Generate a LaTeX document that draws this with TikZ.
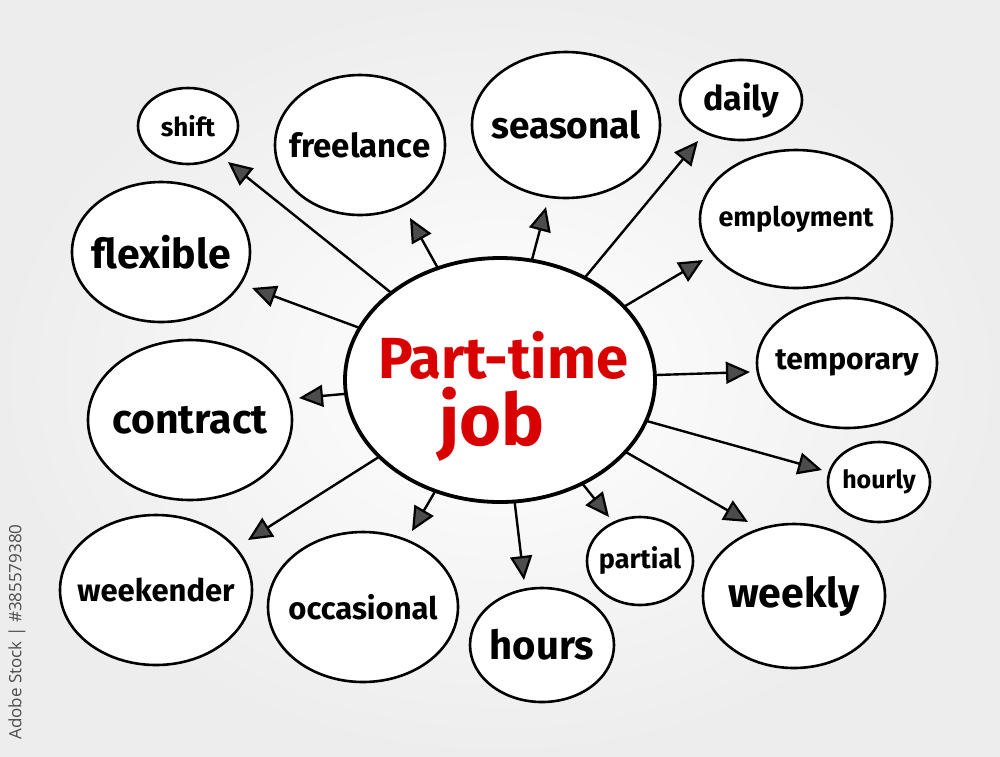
\documentclass[tikz,border=0pt]{standalone}
\usepackage{fontspec}
\setmainfont{Fira Sans}
\newfontfamily\wmfont{Open Sans}
\usetikzlibrary{shapes.geometric,arrows.meta}
\tikzset{
  bub/.style={ellipse, draw=black, line width=2.6pt, fill=white, inner sep=0pt, outer sep=0pt},
  hub/.style={ellipse, draw=black, line width=3.8pt, fill=white, inner sep=0pt, outer sep=0pt},
  lbl/.style={text=black, font=\bfseries},
  hubtext/.style={text=red!85!black, inner sep=0pt},
  link/.style={draw=black, line width=2.4pt, -{Triangle[open,length=24pt,width=22pt,line width=2.2pt,fill=black!70]}},
}
\newcommand{\bubble}[7]{% name, x, y, rx, ry, size, text
  \node[bub, minimum width=#4pt*2, minimum height=#5pt*2,
        label={[lbl, font=\bfseries\fontsize{#6}{#6}\selectfont]center:#7}] (#1) at (#2,#3) {};}
\begin{document}
\begin{tikzpicture}[x=1pt,y=-1pt]
\useasboundingbox (0,0) rectangle (1000,756);
\shade[inner color=white, outer color=black!7] (0,0) rectangle (1000,756);
\node[rotate=90, text=black!70, font=\wmfont\fontsize{17}{20}\selectfont, anchor=center] (wm) at (17,632) {Adobe Stock | \#385579380};

% central
\node[hub, minimum width=310pt, minimum height=244pt] (c) at (500,380) {};
\node[hubtext, font=\bfseries\fontsize{58}{60}\selectfont] (ct1) at (503,355) {Part-time};
\node[hubtext, font=\bfseries\fontsize{72}{74}\selectfont] (ct2) at (492,424) {job};

% satellites
\bubble{shift}{188}{126}{50}{38}{26}{shift}
\bubble{freelance}{360}{145}{85}{70}{33}{freelance}
\bubble{seasonal}{566}{125}{94}{73}{37}{seasonal}
\bubble{daily}{741}{100}{61}{40}{34}{daily}
\bubble{employment}{796}{219}{96}{69}{27}{employment}
\bubble{flexible}{161}{252}{89}{70}{41}{flexible}
\bubble{temporary}{847}{363}{90}{65}{30}{temporary}
\bubble{contract}{190}{420}{102}{80}{41}{contract}
\bubble{hourly}{879}{482}{51}{40}{25}{hourly}
\bubble{weekender}{156}{590}{96}{75}{31}{weekender}
\bubble{occasional}{363}{607}{95}{75}{31}{occasional}
\bubble{hours}{542}{645}{72}{57}{40}{hours}
\bubble{partial}{640}{561}{53}{44}{27}{partial}
\bubble{weekly}{794}{596}{91}{72}{41}{weekly}

% arrow tips (free ends)
\coordinate (tShift) at (228,162);
\coordinate (tFlex) at (252,288);
\coordinate (tContract) at (299,398);
\coordinate (tWeekender) at (248,540);
\coordinate (tOcc) at (412,531);
\coordinate (tHours) at (524,580);
\coordinate (tPartial) at (609,517);
\coordinate (tWeekly) at (748,522);
\coordinate (tHourly) at (822,470);
\coordinate (tTemp) at (750,372);
\coordinate (tEmp) at (703,260);
\coordinate (tDaily) at (698,141);
\coordinate (tSeas) at (546,207);
\coordinate (tFree) at (410,218);

\foreach \t in {tShift,tFlex,tContract,tWeekender,tOcc,tHours,tPartial,tWeekly,tHourly,tTemp,tEmp,tDaily,tSeas,tFree}
  \draw[link] (c) -- (\t);
\end{tikzpicture}
\end{document}
